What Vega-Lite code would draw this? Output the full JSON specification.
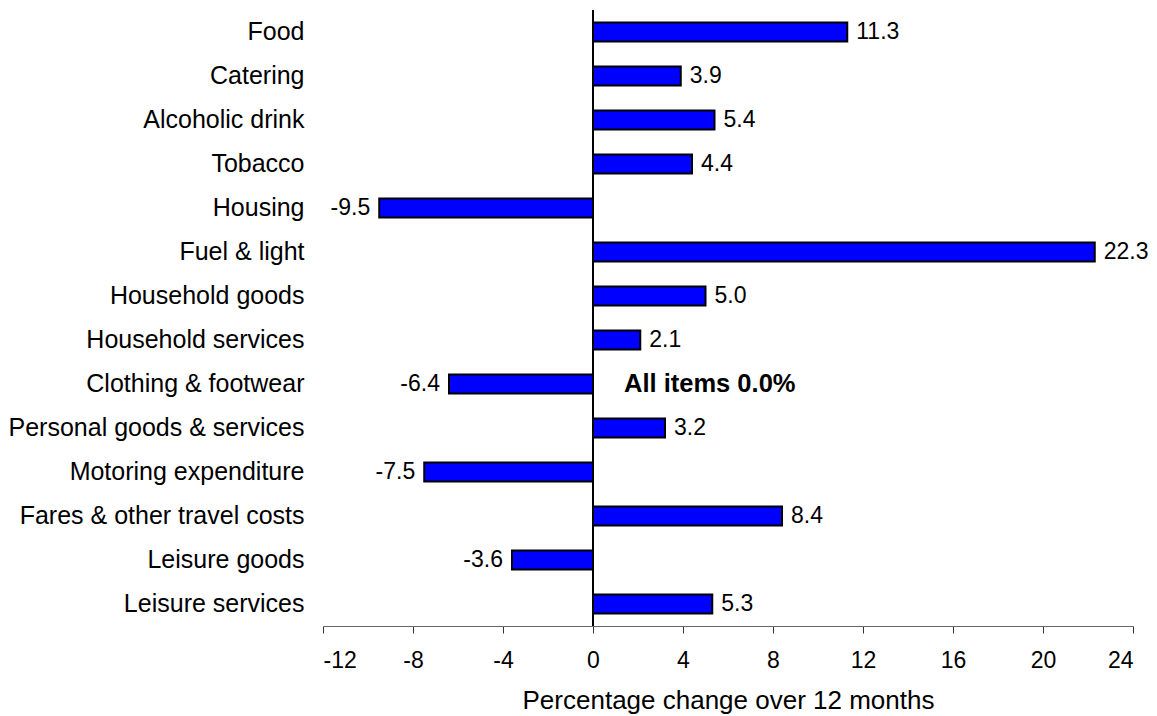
{
  "$schema": "https://vega.github.io/schema/vega-lite/v6.json",
  "width": 810,
  "height": 616,
  "autosize": {"type": "none"},
  "padding": {"left": 323, "top": 10, "right": 24, "bottom": 90},
  "background": "white",
  "config": {
    "view": {"stroke": null},
    "font": "Liberation Sans",
    "text": {"font": "Liberation Sans"},
    "locale": {
      "number": {"decimal": ".", "thousands": ",", "grouping": [3], "currency": ["$", ""], "minus": "-"}
    }
  },
  "data": {
    "values": [
      {"item": "Food", "change": 11.3},
      {"item": "Catering", "change": 3.9},
      {"item": "Alcoholic drink", "change": 5.4},
      {"item": "Tobacco", "change": 4.4},
      {"item": "Housing", "change": -9.5},
      {"item": "Fuel & light", "change": 22.3},
      {"item": "Household goods", "change": 5.0},
      {"item": "Household services", "change": 2.1},
      {"item": "Clothing & footwear", "change": -6.4},
      {"item": "Personal goods & services", "change": 3.2},
      {"item": "Motoring expenditure", "change": -7.5},
      {"item": "Fares & other travel costs", "change": 8.4},
      {"item": "Leisure goods", "change": -3.6},
      {"item": "Leisure services", "change": 5.3}
    ]
  },
  "encoding": {
    "y": {
      "field": "item",
      "type": "nominal",
      "sort": null,
      "scale": {"paddingInner": 0.57, "paddingOuter": 0.285},
      "axis": {
        "title": null,
        "domain": false,
        "ticks": false,
        "labelPadding": 19,
        "labelFontSize": 25,
        "labelLimit": 400,
        "labelColor": "black",
        "labelFont": "Liberation Sans"
      }
    }
  },
  "layer": [
    {
      "mark": {"type": "bar", "color": "#0000FF", "stroke": "black", "strokeWidth": 2},
      "encoding": {
        "x": {
          "field": "change",
          "type": "quantitative",
          "scale": {"domain": [-12, 24], "nice": false, "zero": false},
          "axis": {
            "values": [-12, -8, -4, 0, 4, 8, 12, 16, 20, 24],
            "grid": false,
            "domainColor": "#666666",
            "tickColor": "#333333",
            "tickSize": 7,
            "labelFontSize": 23,
            "labelColor": "black",
            "labelPadding": 16,
            "labelFont": "Liberation Sans",
            "title": "Percentage change over 12 months",
            "titleFontSize": 26,
            "titleFontWeight": "normal",
            "titleColor": "black",
            "titleFont": "Liberation Sans",
            "titlePadding": 15
          }
        }
      }
    },
    {
      "mark": {"type": "rule", "color": "black", "strokeWidth": 1},
      "encoding": {"x": {"datum": 0, "type": "quantitative"}, "y": null}
    },
    {
      "transform": [{"filter": "datum.change >= 0"}],
      "mark": {"type": "text", "align": "left", "dx": 9, "fontSize": 23, "color": "black"},
      "encoding": {
        "x": {"field": "change", "type": "quantitative"},
        "text": {"field": "change", "type": "quantitative", "format": ".1f"}
      }
    },
    {
      "transform": [{"filter": "datum.change < 0"}],
      "mark": {"type": "text", "align": "right", "dx": -9, "fontSize": 23, "color": "black"},
      "encoding": {
        "x": {"field": "change", "type": "quantitative"},
        "text": {"field": "change", "type": "quantitative", "format": ".1f"}
      }
    },
    {
      "transform": [{"filter": "datum.item == 'Clothing & footwear'"}],
      "mark": {"type": "text", "align": "left", "dx": 31, "fontSize": 25.5, "fontWeight": "bold", "color": "black"},
      "encoding": {
        "x": {"datum": 0, "type": "quantitative"},
        "text": {"value": "All items 0.0%"}
      }
    }
  ]
}
